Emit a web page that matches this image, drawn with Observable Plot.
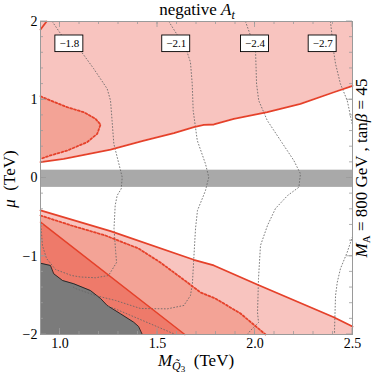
<!DOCTYPE html>
<html><head><meta charset="utf-8">
<script src="https://cdn.jsdelivr.net/npm/d3@7"></script>
<script src="https://cdn.jsdelivr.net/npm/@observablehq/plot@0.6"></script>
<style>
body{margin:0;background:#fff}
</style></head><body><div id="chart"></div>
<script>
const W = 374, H = 377;
const xDomain = [0.9, 2.5];
const yDomain = [-2, 2];
const xMajorTicks = [1.0, 1.5, 2.0, 2.5];
const xMinorTicks = [1.0,1.1,1.2,1.3,1.4,1.5,1.6,1.7,1.8,1.9,2.0,2.1,2.2,2.3,2.4];
const yMajorTicks = [-2, -1, 0, 1, 2];
const yMinorTicks = [-1.8,-1.6,-1.4,-1.2,-1,-0.8,-0.6,-0.4,-0.2,0,0.2,0.4,0.6,0.8,1,1.2,1.4,1.6,1.8];

// region boundaries [M_Q3 (TeV), mu (TeV)]
const upperSolidLine = [[0.9,0.202],[1.019,0.245],[1.259,0.364],[1.430,0.479],[1.584,0.573],[1.686,0.651],[1.737,0.680],[1.789,0.684],[1.891,0.757],[2.063,0.841],[2.233,0.948],[2.404,1.096],[2.5,1.178]];
const upperCornerLine = [[0.9,1.898],[0.931,2.0]];
const upperDottedLine = [[0.9,1.045],[0.951,0.990],[1.037,0.905],[1.122,0.841],[1.182,0.757],[1.208,0.684],[1.191,0.565],[1.139,0.458],[1.037,0.351],[0.951,0.288],[0.9,0.245]];
const lowerSolidLine = [[0.9,-0.415],[1.259,-0.680],[1.686,-1.045],[1.789,-1.118],[2.011,-1.361],[2.404,-1.779],[2.5,-1.898]];
const lowerDottedLine = [[0.9,-0.479],[1.059,-0.607],[1.233,-0.735],[1.403,-0.901],[1.515,-1.080],[1.633,-1.297],[1.721,-1.463],[1.797,-1.540],[1.926,-1.732],[2.054,-2.0]];
const lowerDarkLine = [[0.9,-0.565],[1.64,-2.0]];
const excludedRegion = [[0.9,-1.089],[0.951,-1.118],[0.968,-1.224],[1.013,-1.310],[1.071,-1.352],[1.156,-1.438],[1.208,-1.540],[1.242,-1.629],[1.310,-1.735],[1.378,-1.843],[1.403,-1.898],[1.422,-2.0]];
const bandMu = [[-0.12, 0.1]];

// dotted contours
const contour18 = [[0.960,2.0],[1.013,1.808],[1.105,1.629],[1.172,1.400],[1.242,1.140],[1.259,0.990],[1.267,0.735],[1.276,0.437],[1.302,0.181],[1.319,0.010],[1.314,-0.138],[1.293,-0.224],[1.283,-0.351],[1.277,-0.645],[1.285,-0.927],[1.290,-1.080],[1.249,-1.246],[1.182,-1.275],[1.105,-1.265],[1.059,-1.246],[0.977,-1.169],[0.931,-1.029],[0.910,-0.863],[0.905,-0.696],[0.9,-0.569]];
const contour21 = [[1.558,2.0],[1.601,1.83],[1.652,1.608],[1.669,1.480],[1.678,1.204],[1.683,0.863],[1.704,0.479],[1.746,0.181],[1.763,0.010],[1.746,-0.160],[1.736,-0.224],[1.705,-0.415],[1.695,-0.645],[1.685,-1.080],[1.679,-1.348],[1.669,-1.502],[1.635,-1.629],[1.551,-1.672],[1.413,-1.668],[1.285,-1.565],[1.182,-1.502],[1.079,-1.412],[1.064,-1.387]];
const contour24 = [[1.951,2.0],[1.977,1.821],[2.003,1.608],[2.008,1.204],[2.019,0.990],[2.063,0.735],[2.131,0.479],[2.199,0.224],[2.233,0.054],[2.225,-0.118],[2.167,-0.224],[2.105,-0.390],[2.064,-0.607],[2.028,-0.863],[2.018,-1.284],[2.013,-1.719],[2.018,-1.847],[1.977,-1.949],[1.960,-2.0]];
const contour24b = [[1.249,-1.642],[1.283,-1.672],[1.403,-1.799],[1.505,-1.907],[1.592,-2.0]];
const contour27a = [[2.387,2.0],[2.404,1.608],[2.413,1.459],[2.438,1.204],[2.473,0.990],[2.5,0.671]];
const contour27b = [[2.5,-0.748],[2.473,-0.948],[2.438,-1.160],[2.422,-1.332],[2.413,-1.502],[2.408,-1.927],[2.408,-2.0]];

const contourLabelText = ["−1.8", "−2.1", "−2.4", "−2.7"];
const contourLabelM = [1.048, 1.596, 2.0, 2.347];
const contourLabelMu = [1.715, 1.715, 1.715, 1.715];

const LIGHT = "#f8c4bf", MED = "#f3a396", DARK = "#ee7a6a", GRAY = "#7b7b7b", BAND = "#a9a9a9", RED = "#e5412a";
const labels = contourLabelText.map((t, i) => ({t, x: contourLabelM[i], y: contourLabelMu[i]}));
const X = d => d[0], Y = d => d[1];
const dotted = {x: X, y: Y, stroke: "#666", strokeWidth: 0.85, strokeDasharray: "0.85,2.3"};

const plot = Plot.plot({
  width: W, height: H,
  marginLeft: 40, marginRight: 22, marginTop: 21, marginBottom: 43,
  x: {domain: xDomain},
  y: {domain: yDomain},
  style: {fontFamily: "'Liberation Serif', 'Times New Roman', serif", background: "white", color: "black"},
  marks: [
    Plot.areaY(upperSolidLine, {x: X, y1: Y, y2: () => 2, fill: LIGHT}),
    Plot.areaX(upperDottedLine, {y: Y, x1: () => 0.9, x2: X, fill: MED}),
    Plot.areaY(lowerSolidLine, {x: X, y1: () => -2, y2: Y, fill: LIGHT}),
    Plot.areaY(lowerDottedLine, {x: X, y1: () => -2, y2: Y, fill: MED}),
    Plot.areaY(lowerDarkLine, {x: X, y1: () => -2, y2: Y, fill: DARK}),
    Plot.areaY(excludedRegion, {x: X, y1: () => -2, y2: Y, fill: GRAY}),
    Plot.line(excludedRegion, {x: X, y: Y, stroke: "#111", strokeWidth: 0.8}),
    Plot.rect(bandMu, {x1: () => 0.9, x2: () => 2.5, y1: d => d[0], y2: d => d[1], fill: BAND}),
    Plot.line(contour18, dotted),
    Plot.line(contour21, dotted),
    Plot.line(contour24, dotted),
    Plot.line(contour24b, dotted),
    Plot.line(contour27a, dotted),
    Plot.line(contour27b, dotted),
    Plot.line(upperSolidLine, {x: X, y: Y, stroke: RED, strokeWidth: 1.8}),
    Plot.line(upperCornerLine, {x: X, y: Y, stroke: RED, strokeWidth: 1.8}),
    Plot.line(upperDottedLine, {x: X, y: Y, stroke: RED, strokeWidth: 1.8, strokeDasharray: "2,2"}),
    Plot.line(lowerSolidLine, {x: X, y: Y, stroke: RED, strokeWidth: 1.8}),
    Plot.line(lowerDottedLine, {x: X, y: Y, stroke: RED, strokeWidth: 1.8, strokeDasharray: "2,2"}),
    Plot.line(lowerDarkLine, {x: X, y: Y, stroke: RED, strokeWidth: 1.5}),
    Plot.frame({stroke: "#9a9a9a"}),
    Plot.text(labels, {x: "x", y: "y", text: "t", fontSize: 11, fill: "black"}),
    Plot.axisX({ticks: xMajorTicks, tickSize: 0, tickPadding: 4, fontSize: 14, tickFormat: d => d.toFixed(1), label: null}),
    Plot.axisY({ticks: yMajorTicks, tickSize: 0, tickPadding: 3, fontSize: 14, tickFormat: d => d < 0 ? "−" + Math.abs(d) : String(d), label: null})
  ]
});
document.getElementById("chart").append(plot);

const svg = d3.select(plot);
const sx = plot.scale("x"), sy = plot.scale("y");
const x0 = sx.apply(xDomain[0]), x1 = sx.apply(xDomain[1]);
const y0 = sy.apply(yDomain[0]), y1 = sy.apply(yDomain[1]);

// inward ticks on all four sides
const tg = svg.append("g").attr("stroke", "#9a9a9a").attr("stroke-width", 0.8);
function addXTicks(vals, len) {
  vals.forEach(v => {
    const px = sx.apply(v);
    tg.append("line").attr("x1", px).attr("x2", px).attr("y1", y0).attr("y2", y0 - len);
    tg.append("line").attr("x1", px).attr("x2", px).attr("y1", y1).attr("y2", y1 + len);
  });
}
function addYTicks(vals, len) {
  vals.forEach(v => {
    const py = sy.apply(v);
    tg.append("line").attr("y1", py).attr("y2", py).attr("x1", x0).attr("x2", x0 + len);
    tg.append("line").attr("y1", py).attr("y2", py).attr("x1", x1).attr("x2", x1 - len);
  });
}
addXTicks(xMinorTicks, 3); addXTicks(xMajorTicks, 6);
addYTicks(yMinorTicks, 3); addYTicks(yMajorTicks, 6);

// boxes behind contour labels (the only plain "text" mark group)
const labelGroup = plot.querySelector('g[aria-label="text"]');
const texts = labelGroup ? labelGroup.querySelectorAll("text") : [];
const boxG = document.createElementNS("http://www.w3.org/2000/svg", "g");
labelGroup.parentNode.insertBefore(boxG, labelGroup);
labels.forEach((lab, i) => {
  const w = (texts[i] ? texts[i].getComputedTextLength() : 17) + 8;
  const cx = sx.apply(lab.x), cy = sy.apply(lab.y);
  d3.select(boxG).append("rect")
    .attr("x", cx - w / 2).attr("y", cy - 8.3).attr("width", w).attr("height", 16.6)
    .attr("fill", "white").attr("stroke", "black").attr("stroke-width", 0.9);
});

const font = "'Liberation Serif', 'Times New Roman', serif";
// title
const t = svg.append("text").attr("x", 197).attr("y", 15).attr("text-anchor", "middle")
  .style("font-family", font).style("font-size", "17px").attr("fill", "black");
t.append("tspan").text("negative ");
t.append("tspan").attr("font-style", "italic").text("A");
t.append("tspan").attr("font-style", "italic").attr("font-size", "12px").attr("dy", 4).text("t");

// x label
const xl = svg.append("text").attr("x", 196).attr("y", 366).attr("text-anchor", "middle")
  .style("font-family", font).style("font-size", "17px").attr("fill", "black");
xl.append("tspan").attr("font-style", "italic").text("M");
xl.append("tspan").attr("font-style", "italic").attr("font-size", "12px").attr("dy", 4).text("Q\u0303");
xl.append("tspan").attr("font-size", "9px").attr("dy", 2).text("3");
xl.append("tspan").attr("dy", -6).text("  (TeV)");

// y label
const yl = svg.append("text").attr("transform", "translate(15,179) rotate(-90)").attr("text-anchor", "middle")
  .style("font-family", font).style("font-size", "17px").attr("fill", "black");
yl.append("tspan").attr("font-style", "italic").text("μ");
yl.append("tspan").text("  (TeV)");

// right label
const rl = svg.append("text").attr("transform", "translate(367,168) rotate(-90)").attr("text-anchor", "middle")
  .style("font-family", font).style("font-size", "17px").attr("fill", "black");
rl.append("tspan").attr("font-style", "italic").text("M");
rl.append("tspan").attr("font-size", "11px").attr("dy", 3).text("A");
rl.append("tspan").attr("dy", -3).text(" = 800 GeV , tan");
rl.append("tspan").attr("font-style", "italic").text("β");
rl.append("tspan").text(" = 45");
</script></body></html>
